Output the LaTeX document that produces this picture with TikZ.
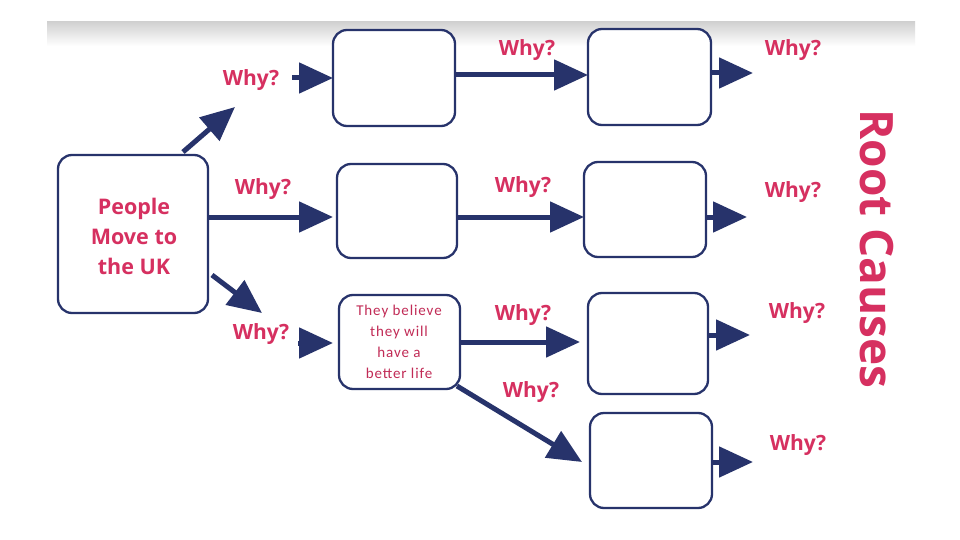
\documentclass[tikz,border=0pt]{standalone}
\usepackage{fontspec}
\setmainfont{Open Sans}
\newfontfamily\smallfont[LetterSpace=6]{Carlito}
\usetikzlibrary{arrows.meta}
\definecolor{crim}{HTML}{D63060}
\definecolor{navy}{HTML}{27336B}
\begin{document}
\begin{tikzpicture}[x=1pt,y=-1pt,
  box/.style={draw=navy,line width=2.3pt,rounded corners=14pt,fill=white},
  why/.style={text=crim,font=\fontsize{21}{24}\selectfont\bfseries,inner sep=0pt},
  arr/.style={draw=navy,line width=5pt,-{Triangle[length=34pt,width=30pt]}}]
\useasboundingbox (0,0) rectangle (960,540);
\fill[white] (0,0) rectangle (960,540);
\shade[top color=black!18,bottom color=white] (47,22) rectangle (915,46);
% boxes
\draw[box] (58,155) rectangle (208,313);
\node[text=crim,font=\fontsize{21.5}{30}\selectfont\bfseries,align=center] (main) at (134,236) {People\\Move to\\the UK};
\draw[box] (333,30) rectangle (455,126);
\draw[box] (588,29) rectangle (711,125);
\draw[box] (337,164) rectangle (457,258);
\draw[box] (584,162) rectangle (706,257);
\draw[box] (339,295) rectangle (460,389);
\node[text=crim!90!black,font=\smallfont\fontsize{15}{21}\selectfont,align=center] (a3) at (399,342) {They believe\\they will\\have a\\better life};
\draw[box] (588,293) rectangle (708,394);
\draw[box] (590,413) rectangle (712,508);
% arrows
\coordinate (d1s) at (183,152); \coordinate (d1e) at (235,107);
\draw[arr] (d1s) -- (d1e);
\coordinate (r1s) at (292,78); \coordinate (r1e) at (333,78);
\draw[arr] (r1s) -- (r1e);
\coordinate (r1bs) at (455,75); \coordinate (r1be) at (588,75);
\draw[arr] (r1bs) -- (r1be);
\coordinate (r1cs) at (711,73); \coordinate (r1ce) at (753,73);
\draw[arr] (r1cs) -- (r1ce);
\coordinate (r2s) at (208,217); \coordinate (r2e) at (333,217);
\draw[arr] (r2s) -- (r2e);
\coordinate (r2bs) at (457,217); \coordinate (r2be) at (584,217);
\draw[arr] (r2bs) -- (r2be);
\coordinate (r2cs) at (706,217); \coordinate (r2ce) at (747,217);
\draw[arr] (r2cs) -- (r2ce);
\coordinate (d2s) at (212,275); \coordinate (d2e) at (262,313);
\draw[arr] (d2s) -- (d2e);
\coordinate (r3s) at (298,343); \coordinate (r3e) at (333,343);
\draw[arr] (r3s) -- (r3e);
\coordinate (r3bs) at (460,342); \coordinate (r3be) at (580,342);
\draw[arr] (r3bs) -- (r3be);
\coordinate (r3cs) at (708,335); \coordinate (r3ce) at (750,335);
\draw[arr] (r3cs) -- (r3ce);
\coordinate (d3s) at (457,386); \coordinate (d3e) at (582,462);
\draw[arr] (d3s) -- (d3e);
\coordinate (r4cs) at (712,462); \coordinate (r4ce) at (753,462);
\draw[arr] (r4cs) -- (r4ce);
% labels
\node[why] (w1) at (251,80) {Why?};
\node[why] (w2) at (527,50) {Why?};
\node[why] (w3) at (793,50) {Why?};
\node[why] (w4) at (263,189) {Why?};
\node[why] (w5) at (523,187) {Why?};
\node[why] (w6) at (793,192) {Why?};
\node[why] (w7) at (261,334) {Why?};
\node[why] (w8) at (523,315) {Why?};
\node[why] (w9) at (797,313) {Why?};
\node[why] (w10) at (531,392) {Why?};
\node[why] (w11) at (798,445) {Why?};
\node[text=crim,font=\fontsize{46}{50}\selectfont\bfseries,rotate=-90,inner sep=0pt] (rc) at (877,249) {Root Causes};
\end{tikzpicture}
\end{document}
